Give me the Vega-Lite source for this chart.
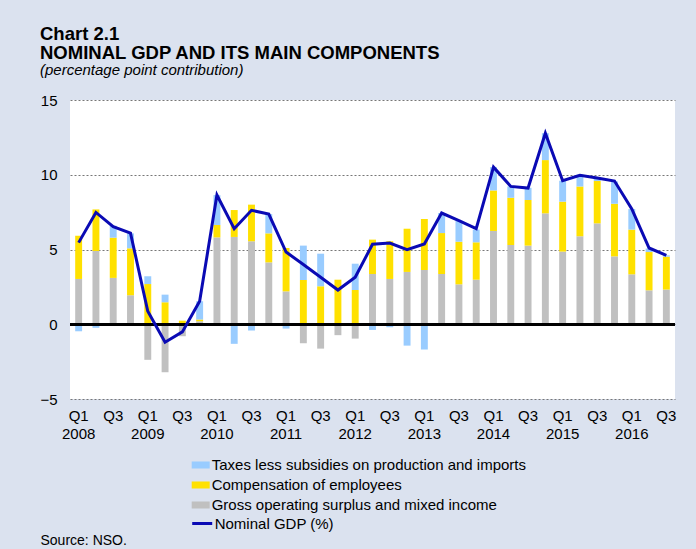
{
  "$schema": "https://vega.github.io/schema/vega-lite/v6.json",
  "width": 605,
  "height": 299,
  "autosize": {"type": "none"},
  "padding": {"left": 70, "top": 100, "right": 21, "bottom": 150},
  "background": "#dbe2ef",
  "view": {"fill": "white", "stroke": null},
  "config": {
    "font": "Liberation Sans",
    "axis": {"labelFont": "Liberation Sans", "labelColor": "black"},
    "legend": {"labelFont": "Liberation Sans", "labelFontSize": 15, "labelColor": "black", "padding": 0, "labelLimit": 0}
  },
  "title": {
    "text": ["Chart 2.1", "NOMINAL GDP AND ITS MAIN COMPONENTS"],
    "subtitle": "(percentage point contribution)",
    "anchor": "start",
    "frame": "group",
    "dx": -30,
    "offset": 15,
    "font": "Liberation Sans",
    "fontSize": 18.5,
    "fontWeight": "bold",
    "lineHeight": 19,
    "color": "black",
    "subtitleFont": "Liberation Sans",
    "subtitleFontSize": 15,
    "subtitleFontStyle": "italic",
    "subtitleColor": "black",
    "subtitlePadding": 1
  },
  "data": {
    "values": [
      {"q": "2008Q1", "gos": 3.03, "comp": 2.89, "tax": -0.47, "gdp": 5.46},
      {"q": "2008Q2", "gos": 4.9, "comp": 2.78, "tax": -0.24, "gdp": 7.48},
      {"q": "2008Q3", "gos": 3.1, "comp": 2.69, "tax": 0.8, "gdp": 6.53},
      {"q": "2008Q4", "gos": 1.94, "comp": 3.14, "tax": 1.0, "gdp": 6.1},
      {"q": "2009Q1", "gos": -2.38, "comp": 2.69, "tax": 0.52, "gdp": 0.87},
      {"q": "2009Q2", "gos": -3.21, "comp": 1.47, "tax": 0.51, "gdp": -1.2},
      {"q": "2009Q3", "gos": -0.8, "comp": 0.24, "tax": 0, "gdp": -0.51},
      {"q": "2009Q4", "gos": 0.2, "comp": 0.11, "tax": 1.23, "gdp": 1.54},
      {"q": "2010Q1", "gos": 5.81, "comp": 0.83, "tax": 2.0, "gdp": 8.64},
      {"q": "2010Q2", "gos": 5.84, "comp": 1.8, "tax": -1.31, "gdp": 6.39},
      {"q": "2010Q3", "gos": 5.55, "comp": 2.45, "tax": -0.42, "gdp": 7.62},
      {"q": "2010Q4", "gos": 4.14, "comp": 1.94, "tax": 1.29, "gdp": 7.37},
      {"q": "2011Q1", "gos": 2.2, "comp": 2.9, "tax": -0.29, "gdp": 4.83},
      {"q": "2011Q2", "gos": -1.27, "comp": 2.96, "tax": 2.3, "gdp": 4.0},
      {"q": "2011Q3", "gos": -1.63, "comp": 2.54, "tax": 2.18, "gdp": 3.14},
      {"q": "2011Q4", "gos": -0.73, "comp": 2.98, "tax": 0, "gdp": 2.29},
      {"q": "2012Q1", "gos": -0.96, "comp": 2.29, "tax": 1.76, "gdp": 3.14},
      {"q": "2012Q2", "gos": 3.36, "comp": 2.3, "tax": -0.38, "gdp": 5.35},
      {"q": "2012Q3", "gos": 3.03, "comp": 2.52, "tax": -0.2, "gdp": 5.43},
      {"q": "2012Q4", "gos": 3.5, "comp": 2.89, "tax": -1.43, "gdp": 4.99},
      {"q": "2013Q1", "gos": 3.63, "comp": 3.41, "tax": -1.69, "gdp": 5.37},
      {"q": "2013Q2", "gos": 3.36, "comp": 2.74, "tax": 1.34, "gdp": 7.44},
      {"q": "2013Q3", "gos": 2.67, "comp": 2.85, "tax": 1.41, "gdp": 6.93},
      {"q": "2013Q4", "gos": 2.98, "comp": 2.5, "tax": 0.85, "gdp": 6.39},
      {"q": "2014Q1", "gos": 6.24, "comp": 2.71, "tax": 1.56, "gdp": 10.51},
      {"q": "2014Q2", "gos": 5.3, "comp": 3.16, "tax": 0.76, "gdp": 9.22},
      {"q": "2014Q3", "gos": 5.26, "comp": 3.05, "tax": 0.82, "gdp": 9.11},
      {"q": "2014Q4", "gos": 7.42, "comp": 3.56, "tax": 1.8, "gdp": 12.78},
      {"q": "2015Q1", "gos": 4.86, "comp": 3.34, "tax": 1.4, "gdp": 9.6},
      {"q": "2015Q2", "gos": 5.88, "comp": 3.34, "tax": 0.78, "gdp": 9.96},
      {"q": "2015Q3", "gos": 6.75, "comp": 2.83, "tax": 0.2, "gdp": 9.78},
      {"q": "2015Q4", "gos": 4.54, "comp": 3.52, "tax": 1.49, "gdp": 9.58},
      {"q": "2016Q1", "gos": 3.34, "comp": 2.99, "tax": 1.38, "gdp": 7.71},
      {"q": "2016Q2", "gos": 2.27, "comp": 2.56, "tax": 0.23, "gdp": 5.1},
      {"q": "2016Q3", "gos": 2.32, "comp": 2.2, "tax": 0.09, "gdp": 4.61}
    ]
  },
  "encoding": {
    "x": {
      "field": "q",
      "type": "ordinal",
      "scale": {"paddingInner": 0.6, "paddingOuter": 0.3},
      "axis": {
        "title": "Source: NSO.",
        "titleFont": "Liberation Sans",
        "titleFontSize": 14,
        "titleFontWeight": "normal",
        "titleColor": "black",
        "titleAnchor": "start",
        "titleAlign": "left",
        "titleBaseline": "alphabetic",
        "titleX": -30,
        "titleY": 145,
        "labelExpr": "substring(datum.value,4)=='Q1' ? ['Q1', substring(datum.value,0,4)] : (substring(datum.value,4)=='Q3' ? ['Q3',''] : '')",
        "labelAngle": 0,
        "labelFontSize": 15,
        "labelLineHeight": 18,
        "labelPadding": 9,
        "labelOverlap": false,
        "labelBound": false,
        "ticks": false,
        "domain": false,
        "grid": false
      }
    }
  },
  "layer": [
    {
      "transform": [
        {"fold": ["gos", "comp", "tax"], "as": ["key", "value"]},
        {"calculate": "datum.key=='gos' ? 'Gross operating surplus and mixed income' : (datum.key=='comp' ? 'Compensation of employees' : 'Taxes less subsidies on production and imports')", "as": "component"},
        {"calculate": "indexof(['gos','comp','tax'], datum.key)", "as": "stackorder"}
      ],
      "mark": {"type": "bar", "width": {"band": 1}},
      "encoding": {
        "y": {
          "field": "value",
          "type": "quantitative",
          "stack": "zero",
          "scale": {"domain": [-5, 15], "nice": false},
          "axis": {
            "title": null,
            "values": [-5, 0, 5, 10, 15],
            "labelFontSize": 15,
            "labelPadding": 13,
            "ticks": false,
            "domain": false,
            "grid": true,
            "gridDash": [2, 2],
            "gridColor": "#777777",
            "gridWidth": 1
          }
        },
        "color": {
          "field": "component",
          "type": "nominal",
          "scale": {
            "domain": ["Taxes less subsidies on production and imports", "Compensation of employees", "Gross operating surplus and mixed income"],
            "range": ["#99ccff", "#ffe100", "#c0c0c0"]
          },
          "legend": {
            "title": null,
            "orient": "none",
            "legendX": 121.7,
            "legendY": 356,
            "symbolType": "M-1,-0.39H1V0.39H-1Z",
            "symbolSize": 324,
            "symbolStrokeWidth": 0,
            "labelOffset": 2,
            "rowPadding": 3
          }
        },
        "order": {"field": "stackorder", "type": "quantitative"}
      }
    },
    {
      "mark": {"type": "rule", "color": "black", "strokeWidth": 2.5},
      "encoding": {"y": {"datum": 0, "type": "quantitative"}, "x": null}
    },
    {
      "mark": {"type": "line", "strokeWidth": 3, "strokeJoin": "miter"},
      "encoding": {
        "y": {"field": "gdp", "type": "quantitative"},
        "stroke": {
          "datum": "Nominal GDP (%)",
          "type": "nominal",
          "scale": {"range": ["#0a0ab4"]},
          "legend": {
            "title": null,
            "orient": "none",
            "legendX": 120.7,
            "legendY": 412,
            "symbolType": "stroke",
            "symbolSize": 400,
            "symbolStrokeWidth": 3,
            "labelOffset": 1
          }
        }
      }
    }
  ]
}
